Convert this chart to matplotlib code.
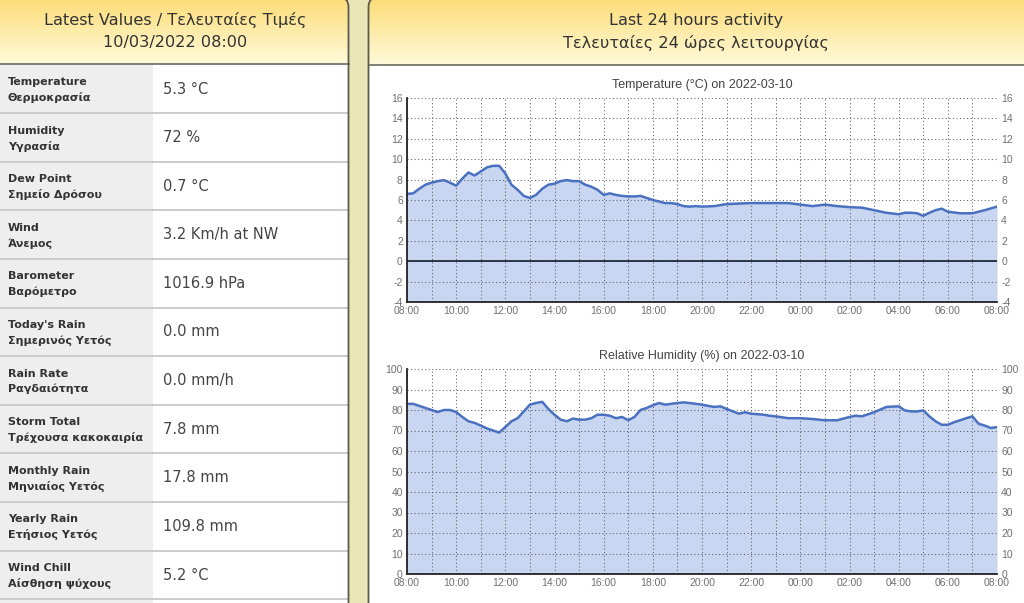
import matplotlib
matplotlib.use('Agg')
import matplotlib.pyplot as plt
from matplotlib.patches import FancyBboxPatch, Rectangle
import numpy as np

# ---------------- data ----------------
header_left = ["Latest Values / Τελευταίες Τιμές", "10/03/2022 08:00"]
header_right = ["Last 24 hours activity", "Τελευταίες 24 ώρες λειτουργίας"]

labels_en = ["Temperature", "Humidity", "Dew Point", "Wind", "Barometer",
             "Today's Rain", "Rain Rate", "Storm Total", "Monthly Rain",
             "Yearly Rain", "Wind Chill"]
labels_gr = ["Θερμοκρασία", "Υγρασία", "Σημείο Δρόσου", "Άνεμος", "Βαρόμετρο",
             "Σημερινός Υετός", "Ραγδαιότητα", "Τρέχουσα κακοκαιρία",
             "Μηνιαίος Υετός", "Ετήσιος Υετός", "Αίσθηση ψύχους"]
values = ["5.3 °C", "72 %", "0.7 °C", "3.2 Km/h at NW", "1016.9 hPa", "0.0 mm",
          "0.0 mm/h", "7.8 mm", "17.8 mm", "109.8 mm", "5.2 °C"]

x_tick_labels = ["08:00", "10:00", "12:00", "14:00", "16:00", "18:00", "20:00",
                 "22:00", "00:00", "02:00", "04:00", "06:00", "08:00"]

temp_title = "Temperature (°C) on 2022-03-10"
hum_title = "Relative Humidity (%) on 2022-03-10"

# hours since 08:00 on 2022-03-09
temp_hours = [0, 0.25, 0.5, 0.75, 1, 1.25, 1.5, 1.75, 2, 2.25, 2.5, 2.75,
              3, 3.25, 3.5, 3.75, 4, 4.25, 4.5, 4.75, 5, 5.25, 5.5, 5.75,
              6, 6.25, 6.5, 6.75, 7, 7.25, 7.5, 7.75, 8, 8.25, 8.5, 8.75,
              9, 9.25, 9.5, 9.75, 10, 10.25, 10.5, 10.75, 11, 11.25, 11.5, 11.75,
              12, 12.5, 13, 13.5, 14, 14.5, 15, 15.5, 16, 16.5, 17, 17.5,
              18, 18.5, 19, 19.5, 20, 20.25, 20.5, 20.75, 21, 21.25, 21.5, 21.75,
              22, 22.5, 23, 23.5, 24]
temp_values = [6.6, 6.65, 7.1, 7.5, 7.7, 7.85, 7.95, 7.7, 7.4, 8.1, 8.7, 8.4,
               8.8, 9.2, 9.35, 9.35, 8.6, 7.5, 7.0, 6.4, 6.2, 6.5, 7.1, 7.5,
               7.6, 7.85, 7.95, 7.85, 7.85, 7.5, 7.3, 7.0, 6.5, 6.65, 6.5, 6.4,
               6.35, 6.35, 6.4, 6.2, 6.0, 5.85, 5.7, 5.7, 5.6, 5.4, 5.35, 5.4,
               5.35, 5.4, 5.6, 5.65, 5.7, 5.7, 5.7, 5.7, 5.55, 5.4, 5.55, 5.4,
               5.3, 5.25, 5.0, 4.75, 4.6, 4.75, 4.75, 4.7, 4.45, 4.75, 5.0, 5.15,
               4.85, 4.7, 4.7, 5.0, 5.35]

hum_hours = [0, 0.25, 0.5, 0.75, 1, 1.25, 1.5, 1.75, 2, 2.25, 2.5, 2.75,
             3, 3.25, 3.5, 3.75, 4, 4.25, 4.5, 4.75, 5, 5.25, 5.5, 5.75,
             6, 6.25, 6.5, 6.75, 7, 7.25, 7.5, 7.75, 8, 8.25, 8.5, 8.75,
             9, 9.25, 9.5, 9.75, 10, 10.25, 10.5, 10.75, 11, 11.25, 11.5, 11.75,
             12, 12.25, 12.5, 12.75, 13, 13.5, 13.75, 14, 14.5, 14.75, 15, 15.5,
             16, 16.5, 17, 17.5, 18, 18.25, 18.5, 19, 19.5, 20, 20.25, 20.5,
             20.75, 21, 21.25, 21.5, 21.75, 22, 22.25, 22.5, 22.75, 23, 23.25,
             23.5, 23.75, 24]
hum_values = [83, 83, 82, 81, 80, 79, 80, 80, 79, 76.6, 74.5, 73.7,
              72.4, 71, 70, 69, 71.7, 74.5, 76, 79.3, 82.6, 83.4, 84, 80.5,
              77.7, 75.3, 74.5, 75.8, 75.3, 75.3, 76, 77.7, 77.7, 77.2, 76, 76.6,
              75, 76.6, 80, 81, 82.3, 83.4, 82.6, 83, 83.4, 83.7, 83.4, 83,
              82.6, 82, 81.5, 81.8, 80.5, 78.2, 78.9, 78.2, 77.7, 77.2, 76.9, 76,
              76, 75.6, 75, 75, 76.6, 77.2, 76.9, 78.9, 81.5, 81.8, 79.8, 79.3,
              79.3, 79.8, 76.9, 74.5, 72.8, 72.8, 74, 75, 76, 76.9, 73.3,
              72.4, 71.2, 71.7]

# ---------------- style ----------------
W, H = 1024, 603
BEIGE = '#EAE6B6'
BORDER = '#5c5c4c'
GRAD_TOP = np.array([252, 220, 118]) / 255
GRAD_BOT = np.array([255, 250, 218]) / 255
LINE = '#4A70C0'
FILL = '#C8D6F2'
TXT = '#333333'

fig = plt.figure(figsize=(W / 100, H / 100), dpi=100)
fig.patch.set_facecolor(BEIGE)
bg = fig.add_axes([0, 0, 1, 1])
bg.axis('off')

t = np.linspace(0, 1, 120)[:, None, None]
grad = GRAD_TOP * (1 - t) + GRAD_BOT * t


def panel(x0, x1, header_bottom, texts, cx):
    p = FancyBboxPatch((x0, -3), x1 - x0, 700,
                       boxstyle='round,pad=0,rounding_size=10',
                       fc='white', ec='none', zorder=1)
    bg.add_patch(p)
    im = bg.imshow(grad, extent=[x0, x1, header_bottom, -3], aspect='auto',
                   origin='upper', zorder=2, interpolation='bilinear')
    im.set_clip_path(p)
    bg.plot([x0, x1], [header_bottom, header_bottom], color='#6a6a60',
            lw=1.2, zorder=5)
    e = FancyBboxPatch((x0, -3), x1 - x0, 700,
                       boxstyle='round,pad=0,rounding_size=10',
                       fc='none', ec=BORDER, lw=1.3, zorder=10)
    bg.add_patch(e)
    bg.text(cx, 20, texts[0], ha='center', va='center', fontsize=11.6,
            color=TXT, family='DejaVu Sans', zorder=6)
    bg.text(cx, 43, texts[1], ha='center', va='center', fontsize=11.6,
            color=TXT, family='DejaVu Sans', zorder=6)


panel(-30, 348.5, 64, header_left, 175)
panel(368.5, 1060, 65, header_right, 696)

# left table
row_top = 64.5
row_h = 48.6
bg.add_patch(Rectangle((0, row_top), 153, 560, fc='#EEEEEE', ec='none', zorder=3))
for i in range(len(labels_en) + 1):
    y0 = row_top + i * row_h
    if i > 0:
        bg.plot([0, 348], [y0, y0], color='#CCCCCC', lw=1.4, zorder=4)
    if i < len(labels_en):
        bg.text(8, y0 + 17.5, labels_en[i], ha='left', va='center', fontsize=8,
                fontweight='bold', color=TXT, family='DejaVu Sans', zorder=6)
        bg.text(8, y0 + 33, labels_gr[i], ha='left', va='center', fontsize=8,
                fontweight='bold', color=TXT, family='DejaVu Sans', zorder=6)
        bg.text(163, y0 + 24.5, values[i], ha='left', va='center', fontsize=10.5,
                color='#444444', family='DejaVu Sans', zorder=6)

bg.set_xlim(0, W)
bg.set_ylim(H, 0)


# ---------------- charts ----------------
def chart(top, bottom, hours, vals, ymin, ymax, ystep, title, zero_line):
    ax = fig.add_axes([407 / W, 1 - bottom / H, 590 / W, (bottom - top) / H])
    ax.set_facecolor('white')
    ax.fill_between(hours, vals, ymin, color=FILL, lw=0, zorder=2)
    ax.plot(hours, vals, color=LINE, lw=1.8, zorder=3, solid_joinstyle='round')
    if zero_line:
        ax.axhline(0, color='#1f2a3a', lw=1.3, zorder=4)
    ax.set_xlim(0, 24)
    ax.set_ylim(ymin, ymax)
    ax.set_xticks(range(0, 25))
    ax.set_xticklabels([x_tick_labels[i // 2] if i % 2 == 0 else '' for i in range(25)])
    yt = list(range(ymin, ymax + 1, ystep))
    ax.set_yticks(yt)
    ax.set_yticklabels([str(v) for v in yt])
    ax.grid(True, color='#606060', lw=0.75, linestyle=(0, (1, 2.4)), zorder=5)
    ax.set_axisbelow(False)
    for s in ['top', 'right']:
        ax.spines[s].set_visible(False)
    for s in ['left', 'bottom']:
        ax.spines[s].set_color('#222222')
        ax.spines[s].set_linewidth(1.3)
        ax.spines[s].set_zorder(6)
    ax.tick_params(length=0, labelsize=7.5, labelcolor='#707070',
                   labelright=True, pad=3)
    for lab in ax.get_xticklabels() + ax.get_yticklabels():
        lab.set_family('Liberation Sans')
    for tl in ax.yaxis.get_major_ticks():
        tl.label2.set_family('Liberation Sans')
    ax.set_title(title, fontsize=9, color='#444444', family='Liberation Sans', pad=7)
    return ax


chart(98, 302, temp_hours, temp_values, -4, 16, 2, temp_title, True)
chart(369, 574, hum_hours, hum_values, 0, 100, 10, hum_title, False)

fig.savefig('out.png', dpi=100, facecolor=fig.get_facecolor())
